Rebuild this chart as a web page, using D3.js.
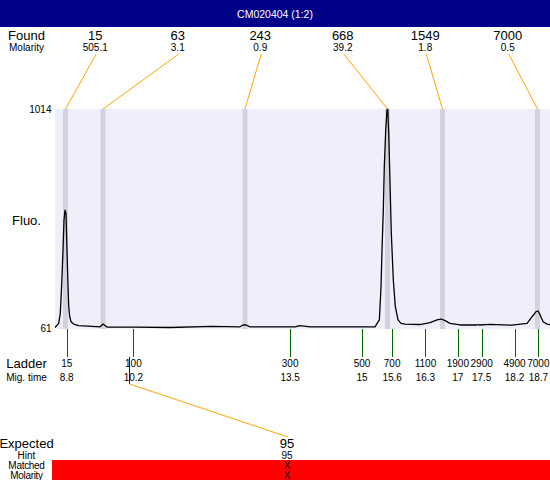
<!DOCTYPE html>
<html><head><meta charset="utf-8">
<script src="https://cdn.jsdelivr.net/npm/d3@7"></script>
<style>
body{margin:0;background:#fff}
svg{display:block}
text{font-family:"Liberation Sans",Arial,sans-serif;fill:#000}
</style>
</head><body>
<svg id="c" width="550" height="480"></svg>
<script>
// ---------------- data ----------------
const title = "CM020404 (1:2)";
const traceTime = [8.554,8.632,8.665,8.686,8.701,8.722,8.743,8.764,8.785,8.800,8.821,8.842,8.863,8.890,8.947,9.051,9.331,9.499,9.562,9.646,10.191,10.968,11.850,12.438,12.500,12.564,12.648,13.592,13.697,13.907,15.271,15.362,15.397,15.418,15.445,15.466,15.496,15.523,15.538,15.559,15.586,15.613,15.655,15.697,15.754,15.817,15.901,16.216,16.426,16.573,16.657,16.741,16.846,17.056,17.413,17.434,17.455,17.686,18.148,18.463,18.568,18.652,18.694,18.736,18.799,18.883,18.944];
const traceFluo = [61,79,124,211,282,399,530,573,559,442,282,152,108,86,76,69,66,64,76,63,63,61,66,64,72,72,64,64,69,64,64,94,239,399,573,762,922,1009,1014,909,691,473,268,152,94,79,76,74,82,94,98,91,79,72,72,74,72,75,71,79,108,130,133,116,86,76,74];
const foundTime = [8.774,9.562,12.542,15.533,16.688,18.682];
const foundSize = ["15","63","243","668","1549","7000"];
const foundMolarity = ["505.1","3.1","0.9","39.2","1.8","0.5"];
const ladderSize = ["15","100","300","500","700","1100","1900","2900","4900","7000"];
const ladderTime = [8.80,10.20,13.49,15.00,15.63,16.33,17.01,17.51,18.20,18.70];
const expectedSize = ["95"];
const expectedHint = ["95"];
const expectedMatched = ["X"];
const expectedMolarity = ["X"];
const expectedTime = [10.11];
const yTicks = [61,1014];
const timeDomain = [8.554,18.944];

// ---------------- layout ----------------
const W = 550, H = 480;
const svg = d3.select("#c");
const x = d3.scaleLinear().domain(timeDomain).range([55,550]);
const y = d3.scaleLinear().domain([61,1014]).range([327.5,109]);
const plotTop = y(1014), plotBottom = y(61) + 1.5;
const labelX = 26.5;
const foundBand = d3.scaleBand().domain(d3.range(foundSize.length)).range([54,549]);
const expBand = d3.scaleBand().domain(d3.range(expectedSize.length)).range([25,549]);
const fmtTime = d => { const s = d.toFixed(1); return s.endsWith(".0") ? s.slice(0,-2) : s; };

// title bar
svg.append("rect").attr("x",0).attr("y",0).attr("width",W).attr("height",27).attr("fill","#000088");
svg.append("text").attr("x",W/2).attr("y",17.5).attr("text-anchor","middle")
  .style("font-size","10.5px").style("fill","#fff").text(title);

// plot background
svg.append("rect").attr("x",x.range()[0]).attr("y",plotTop)
  .attr("width",x.range()[1]-x.range()[0]).attr("height",plotBottom-plotTop).attr("fill","#efeffc");

// found bands
svg.append("g").selectAll("rect").data(foundTime).join("rect")
  .attr("x",d=>x(d)-2.5).attr("y",plotTop).attr("width",5).attr("height",plotBottom-plotTop)
  .attr("fill","#d3d3e0");

// trace
const pts = traceTime.map((t,i)=>[t,traceFluo[i]]);
svg.append("path").datum(pts)
  .attr("d",d3.line().x(d=>x(d[0])).y(d=>y(d[1])))
  .attr("fill","none").attr("stroke","#000").attr("stroke-width",1.3).attr("stroke-linejoin","round");

// y labels
svg.append("g").selectAll("text").data(yTicks).join("text")
  .attr("x",51.5).attr("y",d=>y(d)+4).attr("text-anchor","end")
  .style("font-size","10px").text(d=>d);
svg.append("text").attr("x",labelX).attr("y",225).attr("text-anchor","middle")
  .style("font-size","13px").text("Fluo.");

// found header
svg.append("text").attr("x",labelX).attr("y",39.5).attr("text-anchor","middle").style("font-size","13px").text("Found");
svg.append("text").attr("x",labelX).attr("y",50.5).attr("text-anchor","middle").style("font-size","10px").text("Molarity");
const fg = svg.append("g");
fg.selectAll("text.s").data(foundSize).join("text").attr("class","s")
  .attr("x",(d,i)=>foundBand(i)+foundBand.bandwidth()/2).attr("y",39.5).attr("text-anchor","middle")
  .style("font-size","13px").text(d=>d);
fg.selectAll("text.m").data(foundMolarity).join("text").attr("class","m")
  .attr("x",(d,i)=>foundBand(i)+foundBand.bandwidth()/2).attr("y",50.5).attr("text-anchor","middle")
  .style("font-size","10px").text(d=>d);
fg.selectAll("line").data(foundTime).join("line")
  .attr("x1",(d,i)=>foundBand(i)+foundBand.bandwidth()/2+1).attr("y1",54)
  .attr("x2",d=>x(d)).attr("y2",plotTop)
  .attr("stroke","#ffa500").attr("stroke-width",1);

// ladder
const lg = svg.append("g");
lg.selectAll("line").data(ladderTime).join("line")
  .attr("x1",d=>Math.round(x(d))+0.5).attr("x2",d=>Math.round(x(d))+0.5)
  .attr("y1",plotBottom).attr("y2",357).attr("stroke","#006600").attr("stroke-width",1);
lg.selectAll("text.s").data(ladderSize).join("text").attr("class","s")
  .attr("x",(d,i)=>x(ladderTime[i])).attr("y",367).attr("text-anchor","middle")
  .style("font-size","10px").text(d=>d);
lg.selectAll("text.t").data(ladderTime).join("text").attr("class","t")
  .attr("x",d=>x(d)).attr("y",381).attr("text-anchor","middle")
  .style("font-size","10px").text(fmtTime);
svg.append("text").attr("x",labelX).attr("y",367.5).attr("text-anchor","middle").style("font-size","13px").text("Ladder");
svg.append("text").attr("x",labelX).attr("y",381).attr("text-anchor","middle").style("font-size","10px").text("Mig. time");

// expected
svg.append("rect").attr("x",52).attr("y",460).attr("width",W-52).attr("height",20).attr("fill","#ff0000");
const eg = svg.append("g");
eg.selectAll("line.b").data(expectedTime).join("line").attr("class","b")
  .attr("x1",d=>Math.round(x(d))+0.5).attr("x2",d=>Math.round(x(d))+0.5)
  .attr("y1",357).attr("y2",384).attr("stroke","#0000cc").attr("stroke-width",1);
eg.selectAll("line.o").data(expectedTime).join("line").attr("class","o")
  .attr("x1",d=>Math.round(x(d))+0.5).attr("y1",384)
  .attr("x2",(d,i)=>expBand(i)+expBand.bandwidth()/2+1).attr("y2",437)
  .attr("stroke","#ffa500").attr("stroke-width",1);
svg.append("text").attr("x",labelX).attr("y",448).attr("text-anchor","middle").style("font-size","13px").text("Expected");
svg.append("text").attr("x",labelX).attr("y",459).attr("text-anchor","middle").style("font-size","10px").text("Hint");
svg.append("text").attr("x",labelX).attr("y",469).attr("text-anchor","middle").style("font-size","10px").style("letter-spacing","-0.3px").text("Matched");
svg.append("text").attr("x",labelX).attr("y",479).attr("text-anchor","middle").style("font-size","10px").style("letter-spacing","-0.3px").text("Molarity");
const ex = (d,i)=>expBand(i)+expBand.bandwidth()/2;
eg.selectAll("text.s").data(expectedSize).join("text").attr("class","s")
  .attr("x",ex).attr("y",448).attr("text-anchor","middle").style("font-size","13px").text(d=>d);
eg.selectAll("text.h").data(expectedHint).join("text").attr("class","h")
  .attr("x",ex).attr("y",459).attr("text-anchor","middle").style("font-size","10px").text(d=>d);
eg.selectAll("text.m").data(expectedMatched).join("text").attr("class","m")
  .attr("x",ex).attr("y",469).attr("text-anchor","middle").style("font-size","10px").text(d=>d);
eg.selectAll("text.r").data(expectedMolarity).join("text").attr("class","r")
  .attr("x",ex).attr("y",479).attr("text-anchor","middle").style("font-size","10px").text(d=>d);
</script>
</body></html>
